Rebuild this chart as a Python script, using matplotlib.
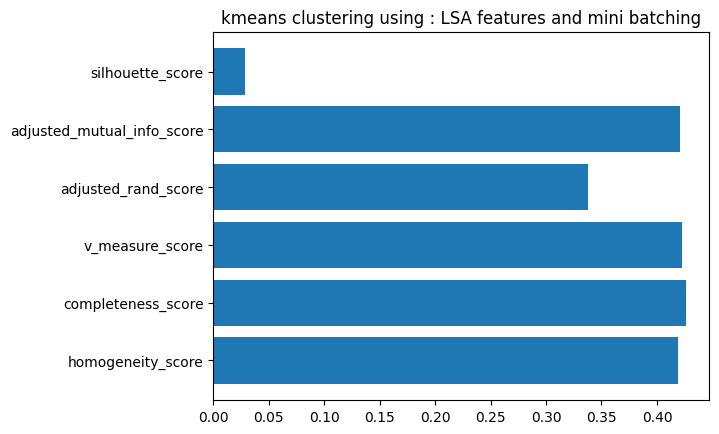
import matplotlib
matplotlib.use("Agg")
import matplotlib.pyplot as plt

metrics = ["homogeneity_score", "completeness_score", "v_measure_score",
           "adjusted_rand_score", "adjusted_mutual_info_score", "silhouette_score"]
values = [0.4187, 0.4259, 0.4222, 0.3376, 0.4211, 0.0283]

fig = plt.figure(figsize=(7.19, 4.35), dpi=100)
ax = fig.add_axes([213.3/719, 1-401.3/435, (709.3-213.3)/719, (401.3-32.7)/435])
ax.barh(metrics, values)
ax.set_title("kmeans clustering using : LSA features and mini batching")
fig.savefig("out.png", dpi=100)
